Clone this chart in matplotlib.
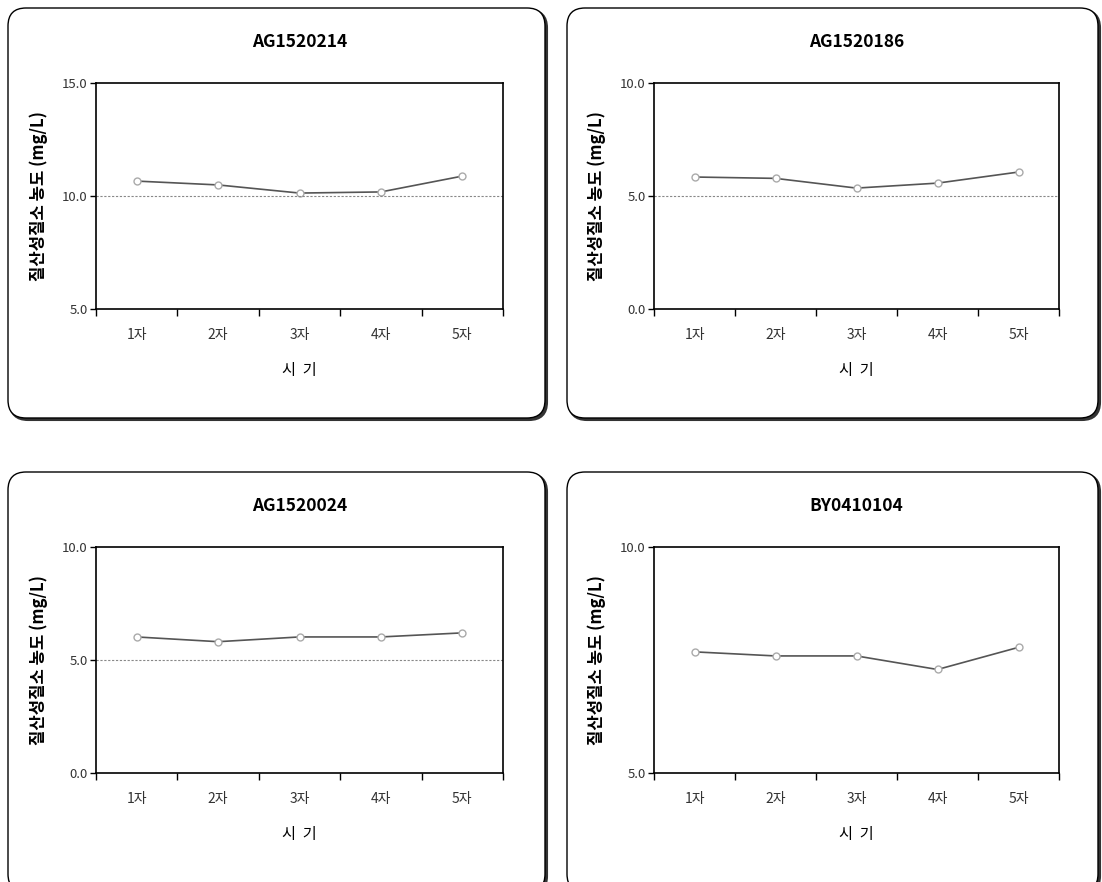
import matplotlib
matplotlib.use('Agg')
import matplotlib.pyplot as plt
from matplotlib.patches import FancyBboxPatch
from matplotlib.transforms import IdentityTransform

plt.rcParams['font.family'] = ['Noto Sans CJK KR', 'DejaVu Sans']

# 데이터
categories = ['1자', '2자', '3자', '4자', '5자']
titles = ['AG1520214', 'AG1520186', 'AG1520024', 'BY0410104']
vals_214 = [10.66, 10.49, 10.13, 10.18, 10.88]
vals_186 = [5.84, 5.78, 5.35, 5.57, 6.06]
vals_024 = [6.02, 5.81, 6.02, 6.02, 6.20]
vals_104 = [7.68, 7.59, 7.59, 7.29, 7.78]
ylims = [(5.0, 15.0), (0.0, 10.0), (0.0, 10.0), (5.0, 10.0)]
yticks = [[5.0, 10.0, 15.0], [0.0, 5.0, 10.0], [0.0, 5.0, 10.0], [5.0, 10.0]]
thresholds = [10.0, 5.0, 5.0, None]
series = [vals_214, vals_186, vals_024, vals_104]

W, H = 1102, 882
fig = plt.figure(figsize=(W / 100, H / 100), dpi=100)

# 패널 박스 (이미지 좌표: x0, y_top, x1, y_bottom)
boxes = [(8, 8, 545, 418), (567, 8, 1098, 418), (8, 472, 545, 892), (567, 472, 1098, 892)]
# 축 위치 (이미지 좌표)
axpos = [(96, 83, 503, 309), (654, 83, 1059, 309), (96, 547, 503, 773), (654, 547, 1059, 773)]

for i in range(4):
    x0, yt, x1, yb = boxes[i]
    shadow = FancyBboxPatch((x0 + 2, H - yb - 2), x1 - x0, yb - yt,
                            boxstyle='round,pad=0,rounding_size=18',
                            transform=IdentityTransform(), facecolor='#333333',
                            edgecolor='#333333', lw=1.5, zorder=0)
    box = FancyBboxPatch((x0, H - yb), x1 - x0, yb - yt,
                         boxstyle='round,pad=0,rounding_size=18',
                         transform=IdentityTransform(), facecolor='white',
                         edgecolor='black', lw=1.0, zorder=1)
    fig.patches.append(shadow)
    fig.patches.append(box)

    ax0, at, ax1, ab = axpos[i]
    ax = fig.add_axes([ax0 / W, 1 - ab / H, (ax1 - ax0) / W, (ab - at) / H])
    ax.set_zorder(2)
    x = list(range(len(categories)))
    ax.plot(x, series[i], color='#555555', lw=1.2, marker='o', markersize=5,
            markerfacecolor='white', markeredgecolor='#aaaaaa', markeredgewidth=1.0)
    if thresholds[i] is not None:
        ax.axhline(thresholds[i], color='#888888', lw=0.8, ls=(0, (2, 1.5)))
    ax.set_xlim(-0.5, len(categories) - 0.5)
    ax.set_ylim(*ylims[i])
    ax.set_yticks(yticks[i])
    ax.set_yticklabels(['%.1f' % v for v in yticks[i]], fontsize=9.5, color='#333333')
    ax.set_xticks([k + 0.5 for k in range(-1, len(categories))])
    ax.set_xticklabels([])
    ax.set_xticks(x, minor=True)
    ax.set_xticklabels(categories, minor=True, fontsize=10, color='#333333')
    ax.tick_params(axis='x', which='major', length=5, direction='out', width=1)
    ax.tick_params(axis='x', which='minor', length=0, pad=14)
    ax.tick_params(axis='y', length=4, direction='out', width=1, pad=2)
    for s in ax.spines.values():
        s.set_linewidth(1.2)
        s.set_color('black')
    ax.set_title(titles[i], fontsize=12.5, fontweight='bold', pad=26)
    ax.set_xlabel('시  기', fontsize=11, labelpad=14)
    ax.set_ylabel('질산성질소 농도 (mg/L)', fontsize=12, fontweight='bold', labelpad=10)

fig.savefig('out.png', dpi=100)
